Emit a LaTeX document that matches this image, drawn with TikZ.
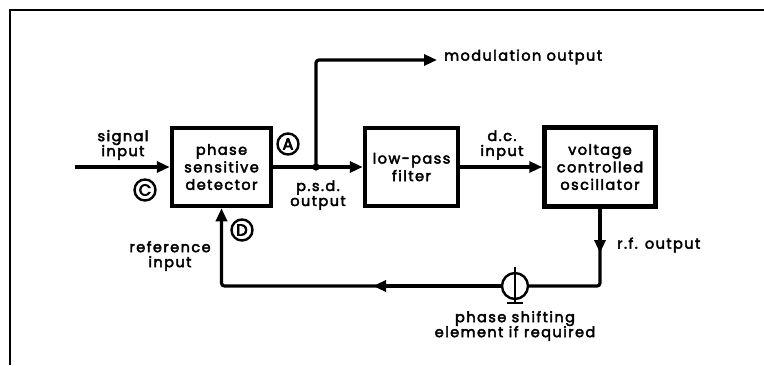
\documentclass[tikz,border=0pt]{standalone}
\usepackage{fontspec}
\setmainfont{Poppins}[LetterSpace=10,FakeBold=3]
\newfontfamily\tagfont{Poppins}[FakeBold=4.5]
\usetikzlibrary{arrows.meta,positioning}
\begin{document}
\begin{tikzpicture}[x=1pt,y=-1pt,
  blk/.style={draw,line width=4.5pt,align=center,inner sep=0pt,font=\fontsize{14.5}{17.5}\selectfont},
  wire/.style={line width=3.2pt,rounded corners=3pt},
  tip/.style={-{Triangle[length=13pt,width=11pt]}},
  lbl/.style={align=center,inner sep=0pt,font=\fontsize{14.5}{15}\selectfont},
  tag/.style={circle,draw,line width=2.4pt,inner sep=0pt,minimum size=21pt,font=\tagfont\fontsize{16}{16}\selectfont}]
\useasboundingbox (0,0) rectangle (764,365);
% frame
\draw[line width=2.6pt] (10,365) -- (10,10) -- (764,10);
% blocks
\node[blk,minimum width=99pt,minimum height=78pt] (psd) at (221.5,167) {phase\\sensitive\\detector};
\node[blk,minimum width=93pt,minimum height=78pt] (lpf) at (411.5,167) {low-pass\\filter};
\node[blk,minimum width=111pt,minimum height=79pt] (vco) at (600,167) {voltage\\controlled\\oscillator};
% coordinates
\coordinate (sin) at (75,167);
\coordinate (jn) at (316,167);
\coordinate (mod) at (437,60);
\coordinate (rfc) at (vco.south |- 0,286);
\coordinate (rfa) at (vco.south |- 0,253);
\coordinate (refc) at (psd.south |- 0,286);
\coordinate (refa) at (373,286);
\node[circle,draw,line width=2.4pt,minimum size=26pt,inner sep=0pt] (ps) at (515,286) {};
% connectors
\draw[wire,tip] (sin) -- (psd.west);
\draw[wire] (psd.east) -- (jn);
\draw[wire,tip] (jn) -- (lpf.west);
\fill (jn) circle (3.6pt);
\draw[wire,tip] (jn) |- (mod);
\draw[wire,tip] (lpf.east) -- (vco.west);
\draw[wire] (vco.south) -- (rfc) -- (ps.east);
\draw[wire,tip] (ps.west) -- (refc) -- (psd.south);
% mid arrows
\draw[wire,tip] (vco.south) -- (rfa);
\draw[wire,tip] (ps.west) -- (refa);
% phase shifter symbol
\draw[line width=2.2pt] (515,267) -- (515,303);
\draw[line width=2.2pt] (507,303) -- (523,303);
% labels
\node[lbl,anchor=west] (modl) at (444,57) {modulation output};
\node[lbl] (sigl) at (123,145) {signal\\input};
\node[lbl] (psdl) at (318,195) {p.s.d.\\output};
\node[lbl] (dcl) at (502,145) {d.c.\\input};
\node[lbl] (refl) at (170,256) {reference\\input};
\node[lbl,anchor=west] (rfl) at (617,245) {r.f. output};
\node[lbl] (psl) at (515,326) {phase shifting\\element if required};
\node[tag] (tA) at (288,144) {A};
\node[tag] (tC) at (145,190) {C};
\node[tag] (tD) at (242,230) {D};
\end{tikzpicture}
\end{document}
